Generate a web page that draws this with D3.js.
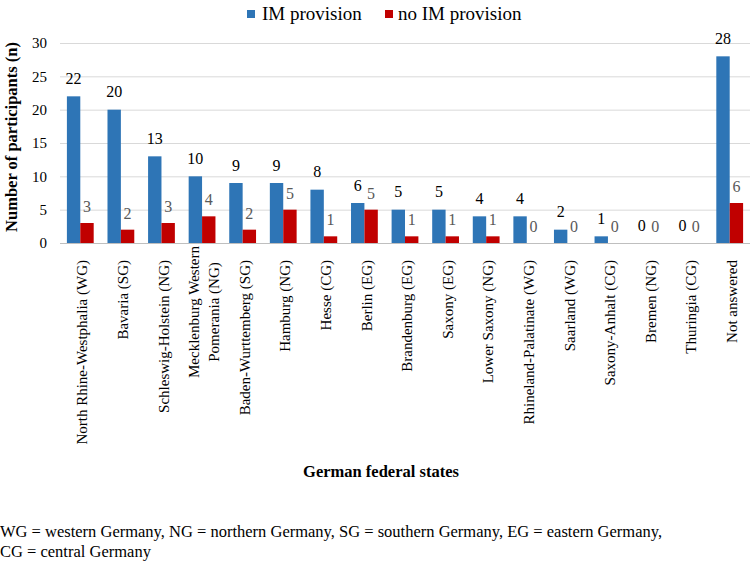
<!DOCTYPE html>
<html><head><meta charset="utf-8">
<script src="https://cdn.jsdelivr.net/npm/d3@7/dist/d3.min.js"></script>
<style>body{margin:0;background:#fff}svg{display:block}</style>
</head><body><svg id="c" width="751" height="564" font-family="'Liberation Serif', 'Times New Roman', Times, 'DejaVu Serif', serif"></svg>
<script>
const FONT = "'Liberation Serif', 'Times New Roman', Times, 'DejaVu Serif', serif";
const categories = ["North Rhine-Westphalia (WG)","Bavaria (SG)","Schleswig-Holstein (NG)","Mecklenburg Western|Pomerania (NG)","Baden-Wurttemberg (SG)","Hamburg (NG)","Hesse (CG)","Berlin (EG)","Brandenburg (EG)","Saxony (EG)","Lower Saxony (NG)","Rhineland-Palatinate (WG)","Saarland (WG)","Saxony-Anhalt (CG)","Bremen (NG)","Thuringia (CG)","Not answered"];
const imProvision = [22,20,13,10,9,9,8,6,5,5,4,4,2,1,0,0,28];
const noImProvision = [3,2,3,4,2,5,1,5,1,1,1,0,0,0,0,0,6];
const seriesNames = ["IM provision","no IM provision"];
const yTicks = [0,5,10,15,20,25,30];
const colors = ["#2E75B6","#C00000"];

const svg = d3.select("#c");
const mL = 60, mR = 750, mT = 43, mB = 243;
const x = d3.scaleBand().domain(categories).range([mL, mR]).paddingInner(0.34).paddingOuter(0.17);
const xs = d3.scaleBand().domain([0,1]).range([0, x.bandwidth()]);
const y = d3.scaleLinear().domain([0,30]).range([mB, mT]);

// gridlines
svg.append("g").selectAll("line").data(yTicks.filter(d=>d>0)).join("line")
  .attr("x1", mL).attr("x2", mR).attr("y1", d=>y(d)+0.5).attr("y2", d=>y(d)+0.5)
  .attr("stroke", "#d9d9d9").attr("stroke-width", 1);

// y axis
const ya = svg.append("g").attr("transform", `translate(${mL},0)`)
  .call(d3.axisLeft(y).tickValues(yTicks).tickSize(0).tickPadding(13));
ya.attr("font-family", FONT).attr("font-size", 15);
ya.select(".domain").remove();
ya.selectAll("text").attr("fill", "#000");

// bars
const series = [imProvision, noImProvision];
series.forEach((vals, si) => {
  svg.append("g").selectAll("rect").data(vals).join("rect")
    .attr("x", (d,i)=>x(categories[i]) + xs(si))
    .attr("width", xs.bandwidth())
    .attr("y", d=>y(d)).attr("height", d=>y(0)-y(d))
    .attr("fill", colors[si]);
  svg.append("g").selectAll("text").data(vals).join("text")
    .attr("x", (d,i)=>x(categories[i]) + xs(si) + xs.bandwidth()/2)
    .attr("y", d=>y(d) - (si===0 ? 12.5 : 11))
    .attr("text-anchor", "middle").attr("font-size", 16)
    .attr("fill", si===0 ? "#000" : "#595959")
    .text(d=>d);
});

// x axis
const xa = svg.append("g").attr("transform", `translate(0,${mB})`)
  .call(d3.axisBottom(x).tickSize(0).tickFormat(""));
xa.select(".domain").attr("stroke", "#bfbfbf").attr("d", `M${mL},0.5H${mR}`);

// x labels rotated
const lab = svg.append("g").selectAll("g").data(categories).join("g")
  .attr("transform", d=>`translate(${x(d)+x.bandwidth()/2},${mB+17}) rotate(-90)`);
lab.each(function(d){
  const parts = d.split("|");
  const g = d3.select(this);
  if (parts.length === 1) {
    g.append("text").attr("text-anchor","end").attr("dy","0.48em").attr("font-size",15).text(d);
  } else {
    const t = g.append("text").attr("text-anchor","middle").attr("font-size",15);
    t.append("tspan").attr("x", -52).attr("dy","-0.18em").text(parts[0]);
    t.append("tspan").attr("x", -52).attr("dy","1.33em").text(parts[1]);
  }
});

// axis titles
svg.append("text").attr("transform", `translate(17,137) rotate(-90)`)
  .attr("text-anchor","middle").attr("font-size",16.5).attr("font-weight","bold")
  .text("Number of participants (n)");
svg.append("text").attr("x", 381).attr("y", 477)
  .attr("text-anchor","middle").attr("font-size",16.5).attr("font-weight","bold")
  .text("German federal states");

// legend
const leg = svg.append("g");
const legItems = [{x:247, tx:262},{x:385, tx:398}];
seriesNames.forEach((n,i)=>{
  leg.append("rect").attr("x", legItems[i].x).attr("y", 10).attr("width", 8).attr("height", 8).attr("fill", colors[i]);
  leg.append("text").attr("x", legItems[i].tx).attr("y", 20).attr("font-size", 19).text(n);
});

// footnote
const foot = ["WG = western Germany, NG = northern Germany, SG = southern Germany, EG = eastern Germany,","CG = central Germany"];
svg.append("g").selectAll("text").data(foot).join("text")
  .attr("x", 0).attr("y", (d,i)=>537 + i*20).attr("font-size", 16.5).text(d=>d);
</script></body></html>
